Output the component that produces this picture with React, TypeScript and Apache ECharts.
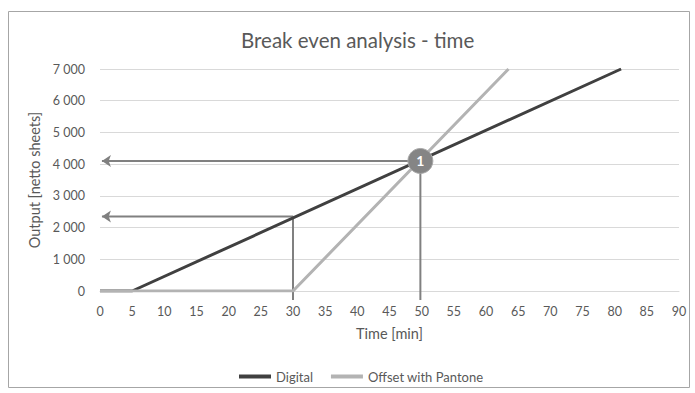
import React, { useEffect, useRef } from "react";
import * as echarts from "echarts";

// Output curves: [time in minutes, output in netto sheets]
const digitalPoints: [number, number][] = [
  [0, 0],
  [5, 0],
  [81, 7000],
];
const offsetPoints: [number, number][] = [
  [0, 0],
  [30, 0],
  [63.5, 7000],
];

// Reference markers
const breakEvenPoint: [number, number] = [49.8, 4100];
const digitalAtOffsetStart: [number, number] = [30, 2350];
const guideFloor = -280; // guide lines run slightly below the x axis

const seriesNames = ["Digital", "Offset with Pantone"];
const chartTitle = "Break even analysis - time";
const xAxisTitle = "Time [min]";
const yAxisTitle = "Output [netto sheets]";

const FONT = "Lato, 'Open Sans', sans-serif";
const TEXT = "#595959";

const formatThousands = (v: number) =>
  String(v).replace(/\B(?=(\d{3})+(?!\d))/g, " ");

function guide(point: [number, number]) {
  return {
    type: "line",
    silent: true,
    clip: false,
    symbol: "none",
    z: 3,
    lineStyle: { color: "#808080", width: 2 },
    data: [
      [point[0], guideFloor],
      [point[0], point[1]],
      {
        value: [0.3, point[1]],
        symbol: "arrow",
        symbolSize: [9, 9],
        symbolRotate: 90,
        itemStyle: { color: "#808080" },
      },
    ],
  };
}

export default function App() {
  const ref = useRef<HTMLDivElement>(null);

  useEffect(() => {
    if (!ref.current) return;
    const chart = echarts.init(ref.current, undefined, { renderer: "svg" });
    chart.setOption({
      animation: false,
      backgroundColor: "#ffffff",
      textStyle: { fontFamily: FONT },
      title: {
        text: chartTitle,
        left: 236,
        top: 24,
        textStyle: { fontFamily: FONT, fontSize: 20.5, fontWeight: "normal", color: TEXT },
      },
      graphic: [
        {
          type: "rect",
          shape: { x: 8.5, y: 11.5, width: 681, height: 376 },
          style: { fill: "none", stroke: "#a6a6a6", lineWidth: 1 },
          silent: true,
        },
      ],
      legend: {
        data: seriesNames,
        top: 365,
        left: 234,
        icon: "rect",
        itemWidth: 32,
        itemHeight: 4,
        itemGap: 18,
        textStyle: { fontFamily: FONT, fontSize: 13, color: TEXT },
      },
      grid: { left: 100, right: 16, top: 69, bottom: 102 },
      xAxis: {
        type: "value",
        min: 0,
        max: 90,
        interval: 5,
        name: xAxisTitle,
        nameLocation: "middle",
        nameGap: 35,
        nameTextStyle: { fontFamily: FONT, fontSize: 14.5, color: TEXT },
        axisLine: { show: true, lineStyle: { color: "#d9d9d9" } },
        axisTick: { show: false },
        splitLine: { show: false },
        axisLabel: { fontFamily: FONT, fontSize: 12.5, color: TEXT, margin: 14 },
      },
      yAxis: {
        type: "value",
        min: 0,
        max: 7000,
        interval: 1000,
        name: yAxisTitle,
        nameLocation: "middle",
        nameGap: 53,
        nameTextStyle: { fontFamily: FONT, fontSize: 14.5, color: TEXT },
        axisLine: { show: false },
        axisTick: { show: false },
        splitLine: { lineStyle: { color: "#d9d9d9" } },
        axisLabel: {
          fontFamily: FONT,
          fontSize: 12.5,
          color: TEXT,
          margin: 15,
          formatter: (v: number) => formatThousands(v),
        },
      },
      series: [
        {
          name: seriesNames[0],
          type: "line",
          data: digitalPoints,
          symbol: "none",
          z: 4,
          lineStyle: { color: "#404040", width: 3 },
          itemStyle: { color: "#404040" },
        },
        {
          name: seriesNames[1],
          type: "line",
          data: offsetPoints,
          symbol: "none",
          z: 5,
          lineStyle: { color: "#b3b3b3", width: 3 },
          itemStyle: { color: "#b3b3b3" },
        },
        guide(breakEvenPoint),
        guide(digitalAtOffsetStart),
        {
          type: "scatter",
          silent: true,
          z: 10,
          symbolSize: 25,
          data: [breakEvenPoint],
          itemStyle: { color: "#858585", borderColor: "#a8a8a8", borderWidth: 1, opacity: 1 },
          label: {
            show: true,
            position: "inside",
            formatter: "1",
            color: "#ffffff",
            fontFamily: FONT,
            fontSize: 14,
            fontWeight: "bold",
          },
        },
      ],
    });
    return () => chart.dispose();
  }, []);

  return (
    <div
      ref={ref}
      style={{ position: "absolute", left: 0, top: 0, width: 695, height: 393 }}
    />
  );
}
